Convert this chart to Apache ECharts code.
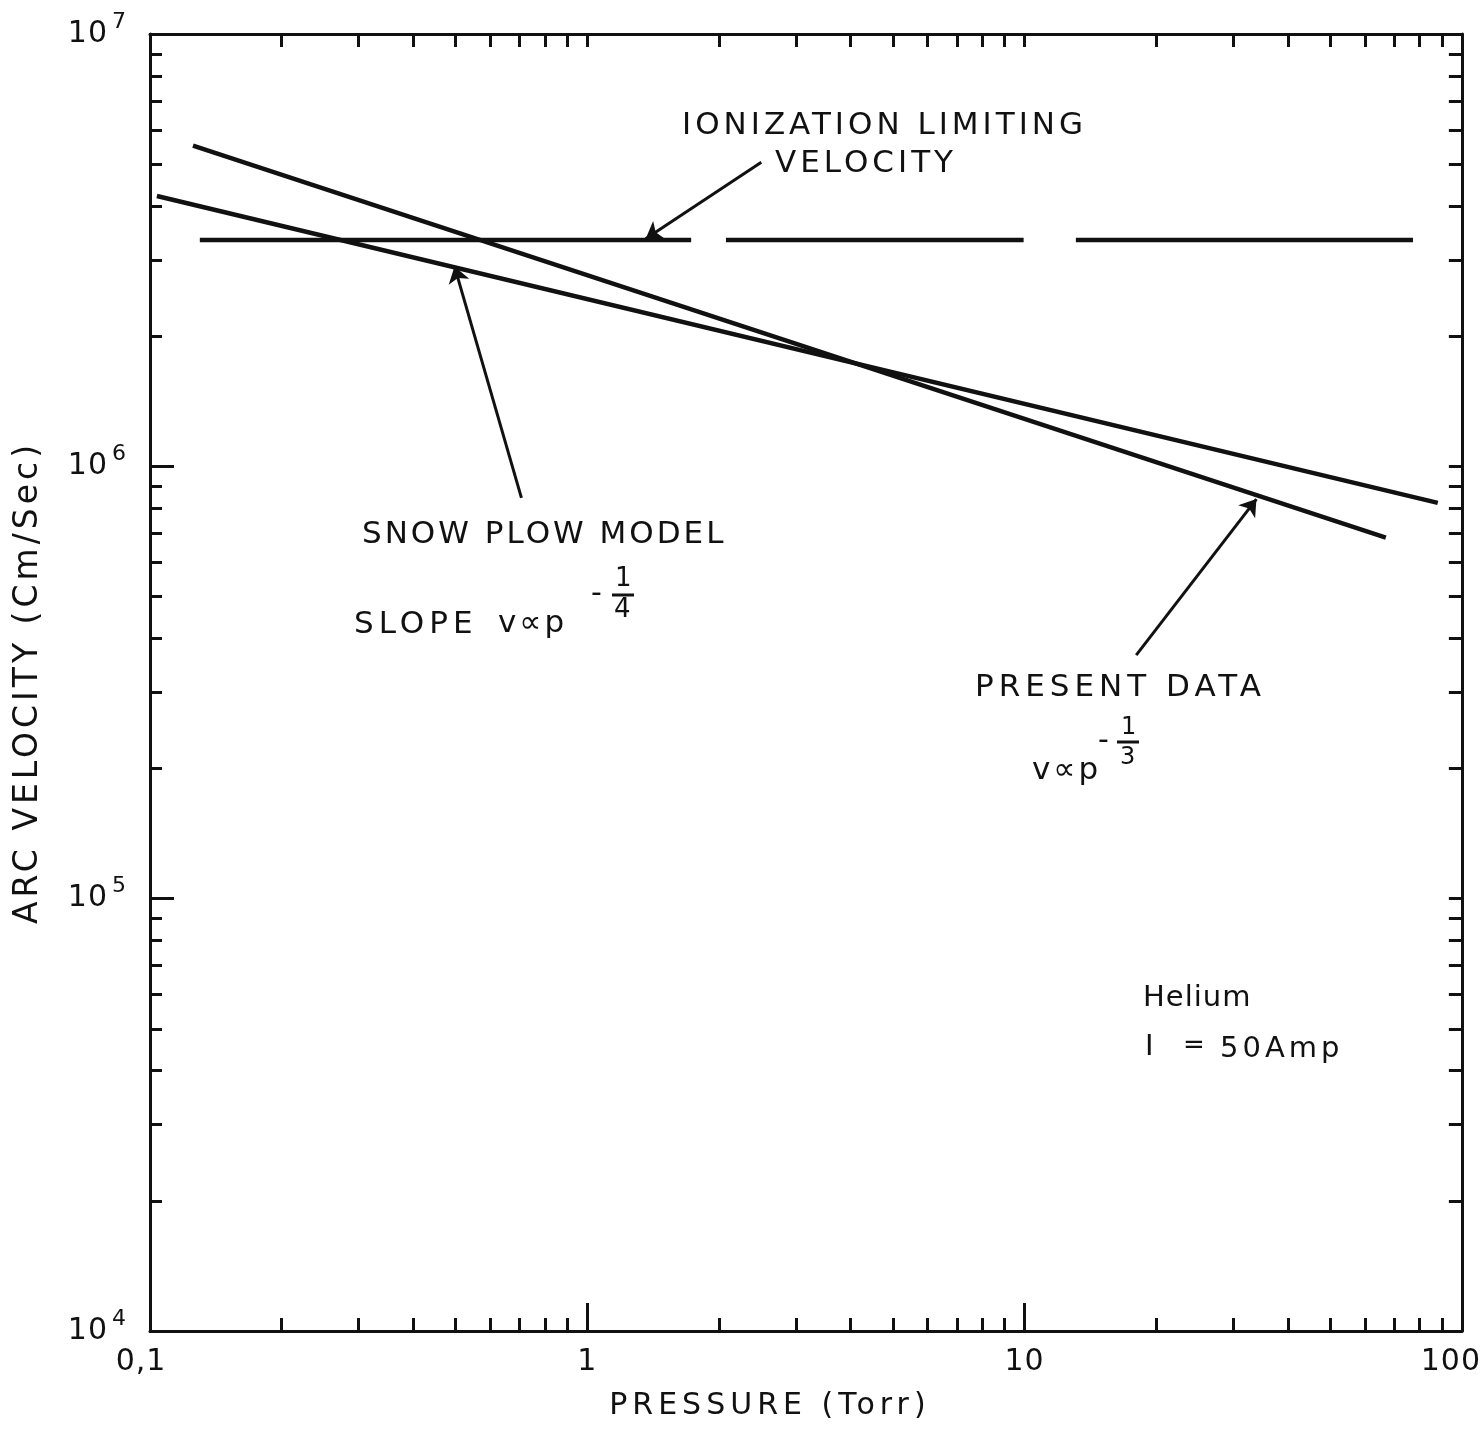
<!DOCTYPE html>
<html><head><meta charset="utf-8">
<script src="https://cdn.jsdelivr.net/npm/echarts@6/dist/echarts.min.js"></script>
<style>html,body{margin:0;padding:0;background:#fff}#c{width:1484px;height:1429px}</style>
</head><body><div id="c"></div>
<script>
// ---- axis ticks ----
const xMajorTicks = [0.1, 1, 10, 100];
const xTickLabels = ['0,1', '1', '10', '100'];
const yMajorTicks = [1e4, 1e5, 1e6, 1e7];
const yTickExponents = ['4', '5', '6', '7'];
const minorSteps = [2, 3, 4, 5, 6, 7, 8, 9];

// ---- series (pressure in Torr, velocity in cm/s) ----
const presentDataP = [0.1254, 67.0];
const presentDataV = [5.52e6, 6.84e5];
const snowPlowP = [0.1037, 88.1];
const snowPlowV = [4.22e6, 8.23e5];
const ionDashStartP = [0.130, 2.076, 13.1];
const ionDashEndP = [1.728, 9.95, 77.3];
const ionizationV = 3.34e6;

// ---- arrows: [fromP, fromV, toP, toV] ----
const arrowIonization = [2.5, 5.05e6, 1.36, 3.36e6];
const arrowSnowPlow = [0.707, 8.45e5, 0.497, 2.9e6];
const arrowPresent = [18.0, 3.66e5, 33.9, 8.4e5];

// Lettering-style spacing: font families ending with "lsN" get N px letter spacing.
(function () {
  const P = CanvasRenderingContext2D.prototype;
  function apply(ctx) {
    const m = /ls(\d+)/.exec(ctx.font || '');
    try { ctx.letterSpacing = m ? m[1] + 'px' : '0px'; } catch (e) {}
  }
  const f = P.fillText, mt = P.measureText;
  P.fillText = function () { apply(this); return f.apply(this, arguments); };
  P.measureText = function () { apply(this); return mt.apply(this, arguments); };
})();

function minorOf(majors) {
  const out = [];
  for (let i = 0; i < majors.length - 1; i++) minorSteps.forEach(m => out.push(majors[i] * m));
  return out;
}
const xMinor = minorOf(xMajorTicks), yMinor = minorOf(yMajorTicks);
const FONT = 'DejaVu Sans';
const fam = n => FONT + ', ls' + n;
const INK = '#111';
function idx(v) { return Math.round(Math.log10(v)); }

const chart = echarts.init(document.getElementById('c'), null, {renderer: 'canvas'});
const line = {color: INK, width: 3};
const baseX = {type: 'log', logBase: 10, min: 0.1, max: 100, splitLine: {show: false}};
const baseY = {type: 'log', logBase: 10, min: 1e4, max: 1e7, splitLine: {show: false}};

function arrowLine(a) {
  return [{coord: [a[0], a[1]]}, {coord: [a[2], a[3]]}];
}

const ionData = [];
ionDashStartP.forEach((p, i) => {
  ionData.push([p, ionizationV]);
  ionData.push([ionDashEndP[i], ionizationV]);
  if (i < ionDashStartP.length - 1) ionData.push([(ionDashEndP[i] + ionDashStartP[i + 1]) / 2, '-']);
});

const txt = (text, x, y, size, ls) => ({
  type: 'text', left: x, top: y,
  style: {text: text, font: `${size}px ${fam(ls || 0)}`, fill: INK}
});

chart.setOption({
  animation: false,
  backgroundColor: '#fff',
  grid: {left: 150, right: 20, top: 34, bottom: 92},
  xAxis: [
    Object.assign({}, baseX, {
      position: 'bottom',
      name: 'PRESSURE (Torr)', nameLocation: 'middle', nameGap: 58,
      nameTextStyle: {fontFamily: fam(5), fontSize: 30, color: INK, padding: [0, 72, 0, 0]},
      axisLine: {lineStyle: line},
      axisTick: {inside: true, length: 28, customValues: xMajorTicks, lineStyle: {color: INK, width: 3}},
      axisLabel: {
        customValues: xMajorTicks, margin: 16, color: INK, fontFamily: fam(1), fontSize: 30,
        formatter: v => {
          const i = idx(v) + 1;
          if (i === 0) return '{l|' + xTickLabels[i] + '}';
          if (i === 3) return '{r|' + xTickLabels[i] + '}';
          return xTickLabels[i];
        },
        rich: {
          l: {fontFamily: fam(1), fontSize: 30, color: INK, padding: [0, 18, 0, 0]},
          r: {fontFamily: fam(1), fontSize: 30, color: INK, padding: [0, 22, 0, 0]}
        }
      }
    }),
    Object.assign({}, baseX, {
      position: 'bottom', axisLine: {show: false}, axisLabel: {show: false},
      axisTick: {inside: true, length: 13, customValues: xMinor, lineStyle: {color: INK, width: 3}}
    }),
    Object.assign({}, baseX, {
      position: 'top', axisLine: {lineStyle: line}, axisLabel: {show: false},
      axisTick: {inside: true, length: 13, customValues: xMinor.concat(xMajorTicks), lineStyle: {color: INK, width: 3}}
    })
  ],
  yAxis: [
    Object.assign({}, baseY, {
      position: 'left',
      name: 'ARC VELOCITY (Cm/Sec)', nameLocation: 'middle', nameGap: 103, nameRotate: 90,
      nameTextStyle: {fontFamily: fam(4), fontSize: 33, color: INK},
      axisLine: {lineStyle: line},
      axisTick: {inside: true, length: 24, customValues: yMajorTicks, lineStyle: {color: INK, width: 3}},
      axisLabel: {
        customValues: yMajorTicks, margin: 24, color: INK,
        formatter: v => '{b|10}{s|' + yTickExponents[idx(v) - 4] + '}',
        rich: {
          b: {fontFamily: fam(1), fontSize: 30, color: INK},
          s: {fontFamily: FONT, fontSize: 22, color: INK, padding: [0, 0, 24, 4]}
        }
      }
    }),
    Object.assign({}, baseY, {
      position: 'left', axisLine: {show: false}, axisLabel: {show: false},
      axisTick: {inside: true, length: 12, customValues: yMinor, lineStyle: {color: INK, width: 3}}
    }),
    Object.assign({}, baseY, {
      position: 'right', axisLine: {lineStyle: line}, axisLabel: {show: false},
      axisTick: {inside: true, length: 13, customValues: yMinor.concat(yMajorTicks), lineStyle: {color: INK, width: 3}}
    })
  ],
  series: [
    {
      name: 'Present data', type: 'line', xAxisIndex: 0, yAxisIndex: 0,
      data: presentDataP.map((p, i) => [p, presentDataV[i]]),
      showSymbol: false, lineStyle: {color: INK, width: 4.5},
      markLine: {
        silent: true, symbol: ['none', 'arrow'], symbolSize: 16,
        label: {show: false}, lineStyle: {color: INK, width: 3, type: 'solid'},
        data: [arrowLine(arrowPresent), arrowLine(arrowSnowPlow), arrowLine(arrowIonization)]
      }
    },
    {
      name: 'Snow plow model', type: 'line', xAxisIndex: 0, yAxisIndex: 0,
      data: snowPlowP.map((p, i) => [p, snowPlowV[i]]),
      showSymbol: false, lineStyle: {color: INK, width: 4.5}
    },
    {
      name: 'Ionization limiting velocity', type: 'line', xAxisIndex: 0, yAxisIndex: 0,
      data: ionData, connectNulls: false,
      showSymbol: false, lineStyle: {color: INK, width: 4.5}
    }
  ],
  graphic: [
    txt('IONIZATION LIMITING', 682, 108, 31, 4),
    txt('VELOCITY', 775, 146, 31, 4),
    txt('SNOW PLOW MODEL', 362, 518, 31, 3),
    txt('SLOPE', 354, 607, 31, 5),
    txt('v\u221Dp', 498, 607, 31, 3),
    txt('-', 591, 579, 30),
    txt('1', 615, 566, 26),
    txt('4', 614, 597, 26),
    {type: 'line', shape: {x1: 612, y1: 595, x2: 634, y2: 595}, style: {stroke: INK, lineWidth: 3}},
    txt('PRESENT DATA', 975, 670, 31, 5),
    txt('v\u221Dp', 1032, 754, 31, 3),
    txt('-', 1098, 726, 30),
    txt('1', 1121, 716, 24),
    txt('3', 1120, 746, 24),
    {type: 'line', shape: {x1: 1117, y1: 742, x2: 1139, y2: 742}, style: {stroke: INK, lineWidth: 3}},
    txt('Helium', 1143, 983, 29, 1),
    txt('I', 1145, 1033, 29),
    txt('=', 1183, 1033, 26),
    txt('50Amp', 1220, 1033, 29, 4)
  ]
});
</script>
</body></html>
